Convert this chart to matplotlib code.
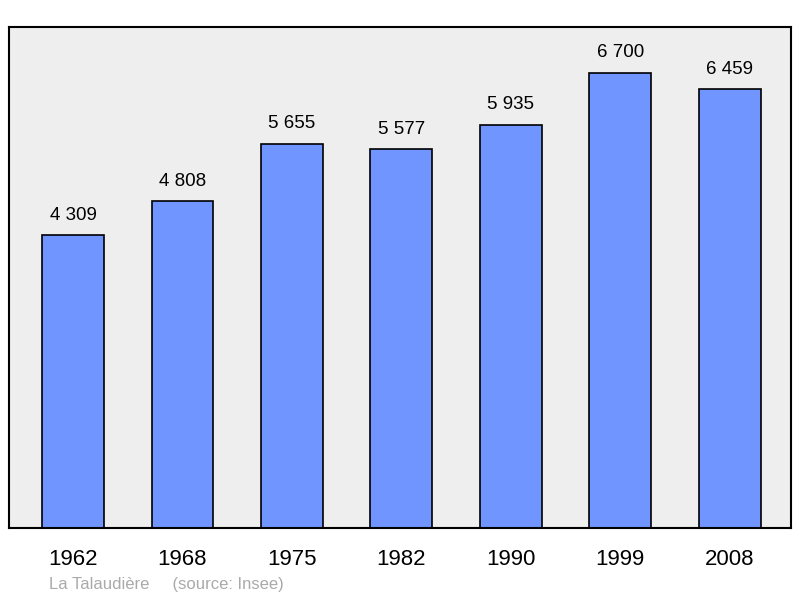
import matplotlib
matplotlib.use('Agg')
import matplotlib.pyplot as plt

years = ['1962', '1968', '1975', '1982', '1990', '1999', '2008']
population = [4309, 4808, 5655, 5577, 5935, 6700, 6459]
value_labels = ['4 309', '4 808', '5 655', '5 577', '5 935', '6 700', '6 459']

plt.rcParams['font.family'] = ['Liberation Sans', 'DejaVu Sans']

fig = plt.figure(figsize=(8, 5.98), dpi=100)
ax = fig.add_axes([9/800, 70/598, 782/800, 501/598])
ax.set_facecolor('#eeeeee')

x = range(len(years))
ax.bar(x, population, width=0.566, color='#7095ff', edgecolor='black', linewidth=1.2)
for i, (v, lab) in enumerate(zip(population, value_labels)):
    ax.text(i, v + 170, lab, ha='center', va='bottom', fontsize=13.5)

ax.set_xlim(-0.585, 6.56)
ax.set_ylim(0, 7375)
ax.set_xticks(list(x))
ax.set_xticklabels(years, fontsize=16)
ax.tick_params(axis='x', length=0, pad=15)
ax.set_yticks([])
for s in ax.spines.values():
    s.set_linewidth(1.5)

fig.text(49/800, 1 - 584/598, 'La Talaudière     (source: Insee)', color='#aaaaaa',
         fontsize=12, va='center')

fig.savefig('out.png')
